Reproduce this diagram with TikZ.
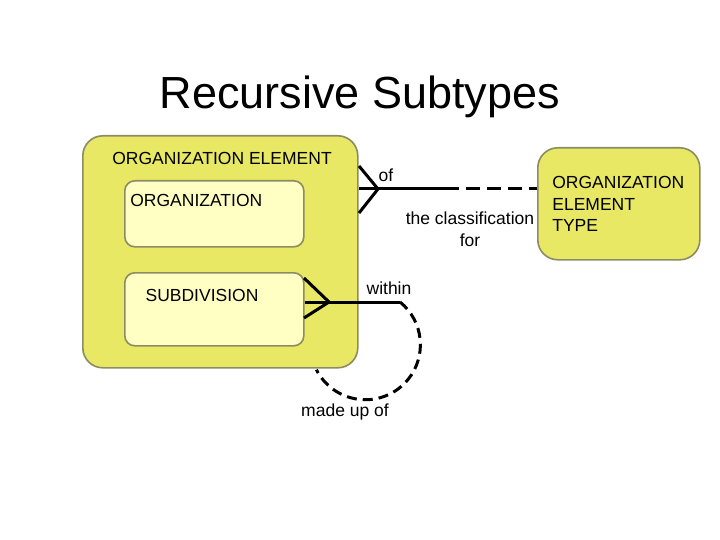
\documentclass[tikz,border=0pt]{standalone}
\usepackage{fontspec}
\setmainfont{Liberation Sans}
\usetikzlibrary{positioning}
\definecolor{entfill}{RGB}{232,232,100}
\definecolor{subfill}{RGB}{255,255,196}
\definecolor{entline}{RGB}{140,140,100}
\tikzset{every picture/.style={line width=0.75pt}}
\tikzset{
  entity/.style={draw=entline, fill=entfill, rounded corners=20pt, line width=1.6pt, anchor=north west},
  subentity/.style={draw=entline, fill=subfill, rounded corners=10pt, line width=1.6pt, anchor=north west},
  rel/.style={line width=3pt, black},
  reldash/.style={rel, dash pattern=on 14pt off 7pt, dash phase=7pt},
  loopdash/.style={rel, dash pattern=on 10pt off 6pt},
  lbl/.style={font=\fontsize{17.5}{21.5}\selectfont, inner sep=0pt},
}

\begin{document}
\begin{tikzpicture}[x=1pt,y=1pt,yscale=-1,xscale=1]
\useasboundingbox (0,0) rectangle (720,540);

% Title
\node[font=\fontsize{45}{50}\selectfont] (title) at (360,97) {Recursive Subtypes};

% Entities
\node[entity, minimum width=275, minimum height=232] (orgelem) at (82,135) {};
\node[lbl] (orgelemlbl) at (222,158) {ORGANIZATION ELEMENT};
\node[subentity, minimum width=179, minimum height=66] (org) at (124,180) {};
\node[lbl, anchor=west] (orglbl) at (130,200) {ORGANIZATION};
\node[subentity, minimum width=179, minimum height=73] (subdiv) at (124,272) {};
\node[lbl] (subdivlbl) at (202,295) {SUBDIVISION};
\node[entity, minimum width=162, minimum height=112] (orgtype) at (537,147) {};
\node[lbl, anchor=west, align=left] (orgtypelbl) at (552,204) {ORGANIZATION\\ELEMENT\\TYPE};

% Relationship: classification
\coordinate (ofjoin) at (378,189);
\coordinate (ofup) at (359,166);
\coordinate (ofdown) at (359,213);
\coordinate (ofmid) at (452,189);
\draw[rel] (ofup) -- (ofjoin) -- (ofdown);
\draw[rel] (orgelem.east |- ofjoin) -- (ofjoin) -- (ofmid);
\draw[reldash] (ofmid) -- (orgtype.west |- ofjoin);
\node[lbl] (oflbl) at (386,175) {of};
\node[lbl, align=center] (classlbl) at (470,229) {the classification\\for};

% Relationship: recursive
\coordinate (injoin) at (329,302);
\coordinate (inup) at (304,278);
\coordinate (indown) at (304,318);
\coordinate (inend) at (400,302);
\draw[rel] (inup) -- (injoin) -- (indown);
\draw[rel] (subdiv.east |- injoin) -- (injoin) -- (inend);
\draw[loopdash] (inend) arc[start angle=-51, end angle=153, radius=55];
\node[lbl] (withinlbl) at (389,288) {within};
\node[lbl] (madelbl) at (345,412) {made up of};

\end{tikzpicture}
\end{document}
